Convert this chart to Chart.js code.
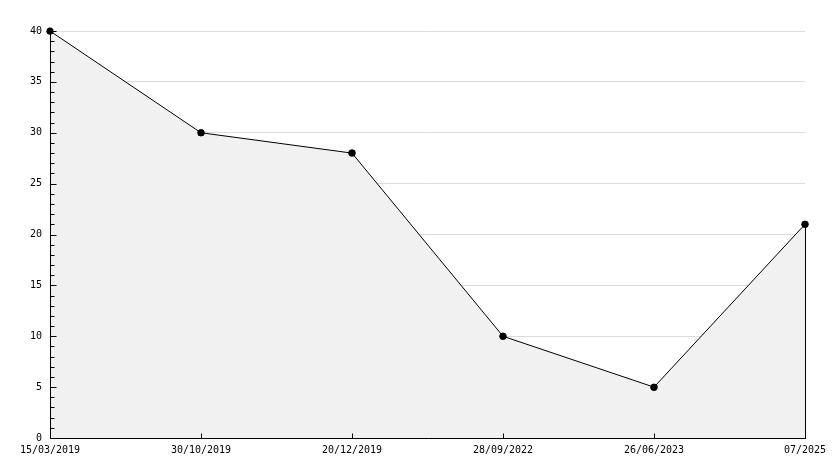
<!DOCTYPE html>
<html>
<head>
<meta charset="utf-8">
<script src="https://cdn.jsdelivr.net/npm/chart.js@4/dist/chart.umd.min.js"></script>
<style>
html,body{margin:0;padding:0;background:#fff;}
#wrap{width:834px;height:468px;}
</style>
</head>
<body>
<div id="wrap"><canvas id="c" width="834" height="468"></canvas></div>
<script>
const categories = ["15/03/2019", "30/10/2019", "20/12/2019", "28/09/2022", "26/06/2023", "07/2025"];
const values = [40, 30, 28, 10, 5, 21];
const yMin = 0;
const yMax = 40;
const yMajorStep = 5;
const yMinorStep = 1;

const axesPlugin = {
  id: 'axesPlugin',
  afterDatasetsDraw(chart) {
    const ctx = chart.ctx;
    const x = chart.scales.x, y = chart.scales.y;
    const a = chart.chartArea;
    ctx.save();
    ctx.strokeStyle = '#000';
    ctx.lineWidth = 1;
    const L = Math.round(a.left) + 0.5;
    const B = Math.round(a.bottom) + 0.5;
    ctx.beginPath();
    ctx.moveTo(L, Math.round(a.top));
    ctx.lineTo(L, B);
    ctx.moveTo(L, B);
    ctx.lineTo(Math.round(a.right) + 1, B);
    for (let v = yMin; v <= yMax; v += yMinorStep) {
      const py = Math.round(y.getPixelForValue(v)) + 0.5;
      const len = (v % yMajorStep === 0) ? 6 : 4;
      ctx.moveTo(L, py);
      ctx.lineTo(L + len, py);
    }
    categories.forEach((c, i) => {
      const px = Math.round(x.getPixelForValue(i)) + 0.5;
      ctx.moveTo(px, B);
      ctx.lineTo(px, B - 5);
    });
    const last = values.length - 1;
    const rx = Math.round(x.getPixelForValue(last)) + 0.5;
    ctx.moveTo(rx, y.getPixelForValue(values[last]));
    ctx.lineTo(rx, B);
    ctx.stroke();
    ctx.restore();
    // redraw the point markers on top of the axes
    ctx.save();
    chart.getDatasetMeta(0).data.forEach(p => p.draw(ctx));
    ctx.restore();
  }
};

new Chart(document.getElementById('c'), {
  type: 'line',
  data: {
    labels: categories,
    datasets: [{
      data: values,
      borderColor: '#000',
      borderWidth: 1,
      backgroundColor: '#f1f1f1',
      fill: 'origin',
      tension: 0,
      pointRadius: 3.5,
      pointBackgroundColor: '#000',
      pointBorderColor: '#000',
      pointBorderWidth: 0,
      pointStyle: 'circle'
    }]
  },
  options: {
    responsive: false,
    animation: false,
    devicePixelRatio: 1,
    layout: { padding: { top: 31, right: 29, left: 0, bottom: 0 } },
    plugins: { legend: { display: false }, tooltip: { enabled: false } },
    scales: {
      x: {
        type: 'category',
        offset: false,
        grid: { display: false, drawTicks: false },
        border: { display: false },
        ticks: {
          color: '#000',
          font: { family: 'DejaVu Sans Mono', size: 10 },
          padding: 6,
          maxRotation: 0,
          autoSkip: false
        },
        afterFit(s) { s.height = 30; }
      },
      y: {
        min: yMin,
        max: yMax,
        grid: { color: '#dcdcdc', lineWidth: 1, drawTicks: false },
        border: { display: false },
        ticks: {
          stepSize: yMajorStep,
          color: '#000',
          font: { family: 'DejaVu Sans Mono', size: 10 },
          padding: 8
        },
        afterFit(s) { s.width = 50; }
      }
    }
  },
  plugins: [axesPlugin]
});
</script>
</body>
</html>
